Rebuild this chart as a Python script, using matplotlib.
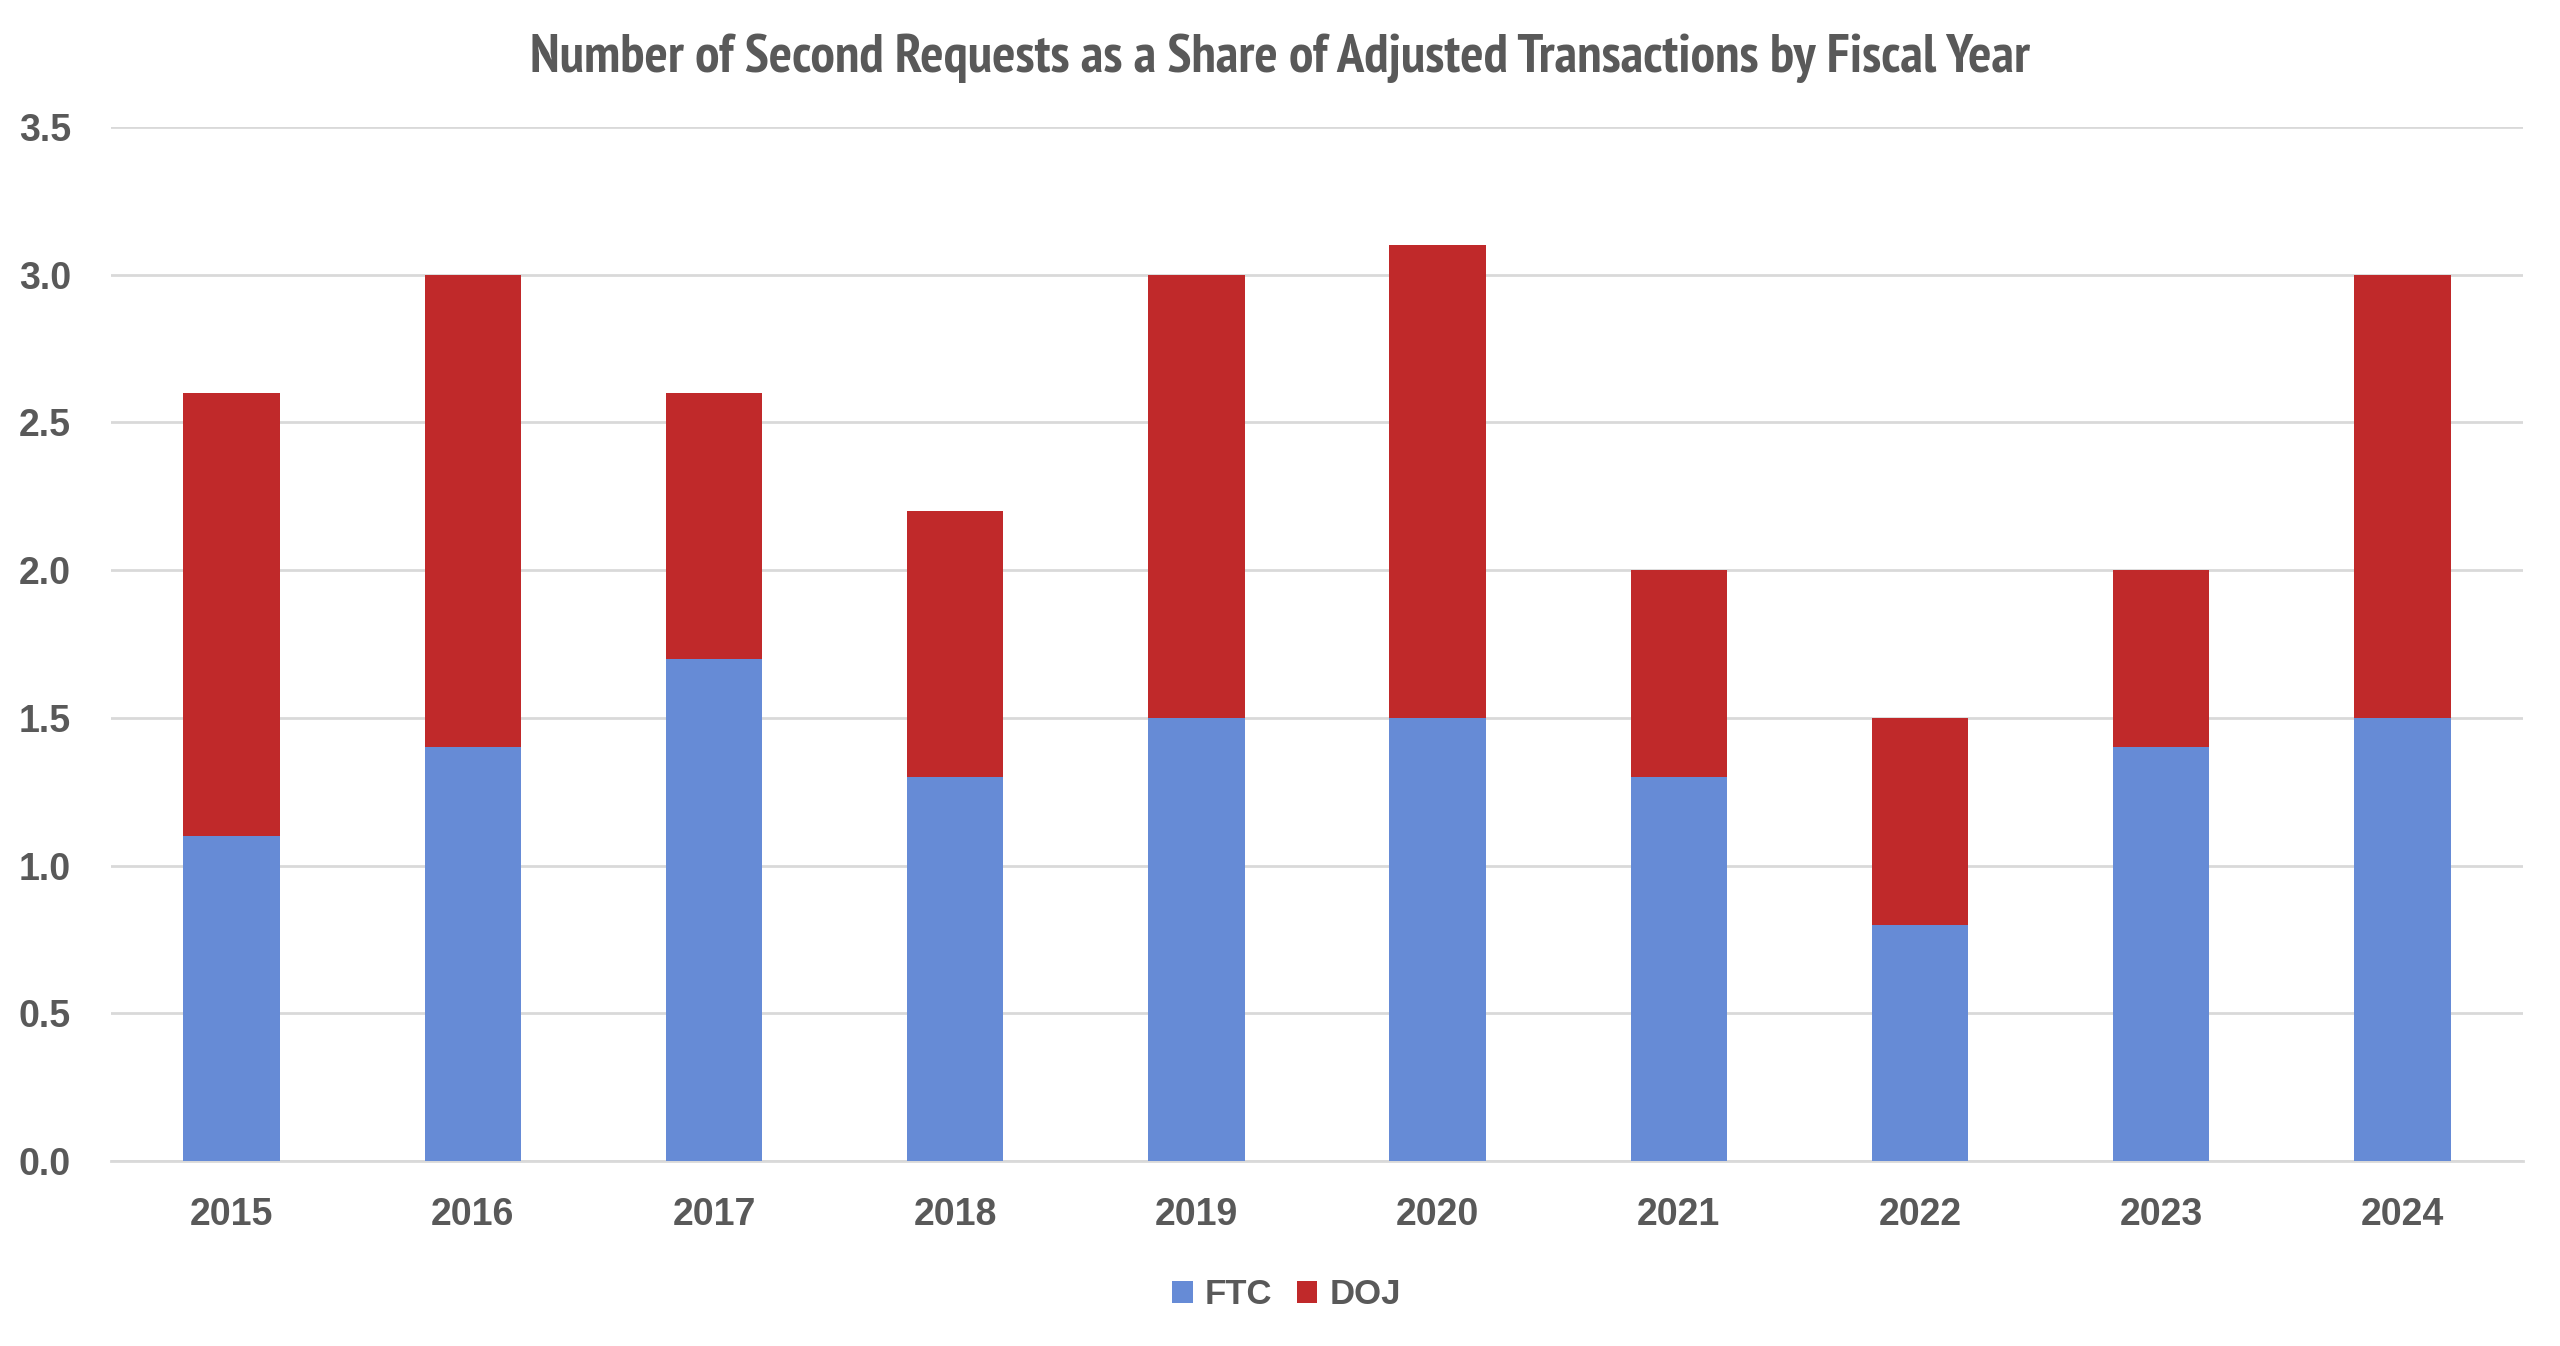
import matplotlib
matplotlib.use("Agg")
import matplotlib.pyplot as plt
from matplotlib import font_manager as fm
from matplotlib.patches import Patch

years = ["2015", "2016", "2017", "2018", "2019", "2020", "2021", "2022", "2023", "2024"]
ftc = [1.1, 1.4, 1.7, 1.3, 1.5, 1.5, 1.3, 0.8, 1.4, 1.5]
doj = [1.5, 1.6, 0.9, 0.9, 1.5, 1.6, 0.7, 0.7, 0.6, 1.5]
yticks = [0.0, 0.5, 1.0, 1.5, 2.0, 2.5, 3.0, 3.5]

names = {f.name for f in fm.fontManager.ttflist}
main_font = "Liberation Sans" if "Liberation Sans" in names else "DejaVu Sans"

# look for a condensed bold face for the title
title_prop = None
for f in fm.fontManager.ttflist:
    if f.weight in ("bold", 700) and ("Narrow" in f.name or "Condensed" in f.name or
                                     str(f.stretch) in ("condensed", "semi-condensed", "575", "500")):
        title_prop = fm.FontProperties(fname=f.fname, size=39.3)
        if "Narrow" in f.name:
            break
if title_prop is None:
    title_prop = fm.FontProperties(family=main_font, weight="bold", size=28)

TXT = "#595959"
BLUE = "#668BD6"
RED = "#C0292A"
GRID = "#D9D9D9"

fig = plt.figure(figsize=(25.6, 13.46), dpi=100)
ax = fig.add_axes([0.0434, 0.1374, 0.9421, 0.7682])

x = list(range(len(years)))
ax.bar(x, ftc, width=0.4, color=BLUE, label="FTC", zorder=3)
ax.bar(x, doj, width=0.4, bottom=ftc, color=RED, label="DOJ", zorder=3)

ax.set_ylim(0, 3.5)
ax.set_xlim(-0.5, len(years) - 0.5)
ax.set_yticks(yticks)
ax.set_yticklabels([f"{v:.1f}" for v in yticks])
ax.set_xticks(x)
ax.set_xticklabels(years)
ax.grid(axis="y", color=GRID, linewidth=2, zorder=0)
for s in ["top", "right", "left"]:
    ax.spines[s].set_visible(False)
ax.spines["bottom"].set_color(GRID)
ax.spines["bottom"].set_linewidth(2)
ax.tick_params(axis="both", length=0, labelsize=27, labelcolor=TXT)
ax.tick_params(axis="y", pad=29)
ax.tick_params(axis="x", pad=26)
for lab in ax.get_xticklabels() + ax.get_yticklabels():
    lab.set_fontweight("bold")
    lab.set_fontfamily(main_font)

fig.text(0.5, 0.957, "Number of Second Requests as a Share of Adjusted Transactions by Fiscal Year",
         ha="center", va="center", fontproperties=title_prop, color=TXT)

handles = [Patch(facecolor=BLUE, label="FTC"), Patch(facecolor=RED, label="DOJ")]
leg = fig.legend(handles=handles, loc="center", bbox_to_anchor=(0.5025, 0.038), ncol=2, frameon=False,
                 prop={"family": main_font, "weight": "bold", "size": 25},
                 handlelength=0.6, handleheight=0.6, handletextpad=0.35, columnspacing=0.7)
for t in leg.get_texts():
    t.set_color(TXT)

fig.savefig("out.png", dpi=100, facecolor="white")
